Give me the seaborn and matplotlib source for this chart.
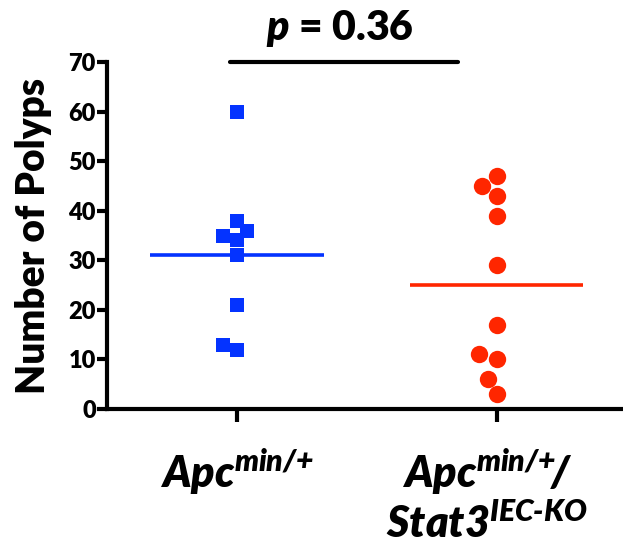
import numpy as np
import pandas as pd
import matplotlib
matplotlib.use("Agg")
import matplotlib.pyplot as plt
import seaborn as sns
from matplotlib.transforms import ScaledTranslation

# ---- data ----
groups = ["Apc", "Apc_Stat3"]
group_labels = [
    r"$\mathbfit{Apc}^{\mathbfit{min/{+}}}$",
    "$\\mathbfit{Apc}^{\\mathbfit{min/{+}}}\\!\\mathbfit{/}$\n$\\mathbfit{Stat3}^{\\mathbfit{IEC\u2010KO}}$",
]
apc_polyps = [60, 38, 35, 36, 34, 31, 21, 12, 13]
stat3_polyps = [47, 45, 43, 39, 29, 17, 11, 10, 6, 3]
y_ticks = [0, 10, 20, 30, 40, 50, 60, 70]
y_label = "Number of Polyps"
p_label = r"$\mathbfit{p}$ = 0.36"

colors = ["#0433FF", "#FF2600"]
markers = ["s", "o"]
sizes = [10, 12.5]

df = pd.DataFrame({
    "group": [groups[0]] * len(apc_polyps) + [groups[1]] * len(stat3_polyps),
    "polyps": apc_polyps + stat3_polyps,
})

sns.set_style("ticks")
plt.rcParams["font.family"] = ["Lato", "DejaVu Sans"]
plt.rcParams["font.weight"] = "heavy"
plt.rcParams["text.color"] = "black"
plt.rcParams["axes.labelcolor"] = "black"
plt.rcParams["xtick.color"] = "black"
plt.rcParams["ytick.color"] = "black"
plt.rcParams["mathtext.fontset"] = "custom"
plt.rcParams["mathtext.bfit"] = "Lato:italic:heavy"
plt.rcParams["mathtext.bf"] = "Lato:heavy"
plt.rcParams["mathtext.it"] = "Lato:italic:heavy"
plt.rcParams["mathtext.rm"] = "Lato:heavy"

fig = plt.figure(figsize=(6.23, 5.46), dpi=100)
ax = fig.add_axes([107 / 623, 1 - 409 / 546, 1 - 107 / 623, (409 - 62) / 546])

for i, g in enumerate(groups):
    sub = df[df["group"] == g]
    sns.swarmplot(data=sub, x="group", y="polyps", order=groups, ax=ax,
                  color=colors[i], marker=markers[i], size=sizes[i],
                  linewidth=0, zorder=3)
    m = sub["polyps"].mean()
    ax.hlines(m, i - 0.333, i + 0.333, color=colors[i], lw=2.6, zorder=2)

ax.set_xlim(-0.5, 1.485)
ax.set_ylim(0, 70)
ax.set_yticks(y_ticks)
ax.set_xticks(range(len(groups)))
ax.set_xticklabels(group_labels, fontsize=31, multialignment="center",
                   linespacing=1.15, color="black")
ax.set_xlabel("")
ax.set_ylabel(y_label, fontsize=28, fontweight="heavy", labelpad=12, color="black")

for s in ["top", "right"]:
    ax.spines[s].set_visible(False)
for s in ["left", "bottom"]:
    ax.spines[s].set_linewidth(3)
    ax.spines[s].set_color("black")
ax.tick_params(axis="y", length=7, width=3, pad=1, labelsize=17, colors="black")
ax.tick_params(axis="x", length=9, width=3, pad=18, colors="black")
for lab in ax.get_yticklabels():
    lab.set_fontweight("heavy")

xl = ax.get_xticklabels()
xl[1].set_transform(xl[1].get_transform() + ScaledTranslation(-0.10, 0, fig.dpi_scale_trans))

# significance bar
ax.plot([-0.027, 0.85], [70, 70], color="black", lw=3, clip_on=False,
        solid_capstyle="round", zorder=4)
ax.annotate(p_label, xy=(0.396, 70), xytext=(0, 16), textcoords="offset points",
            ha="center", va="baseline", fontsize=29.5, fontweight="heavy",
            color="black", annotation_clip=False)

fig.savefig("out.png", dpi=100)
